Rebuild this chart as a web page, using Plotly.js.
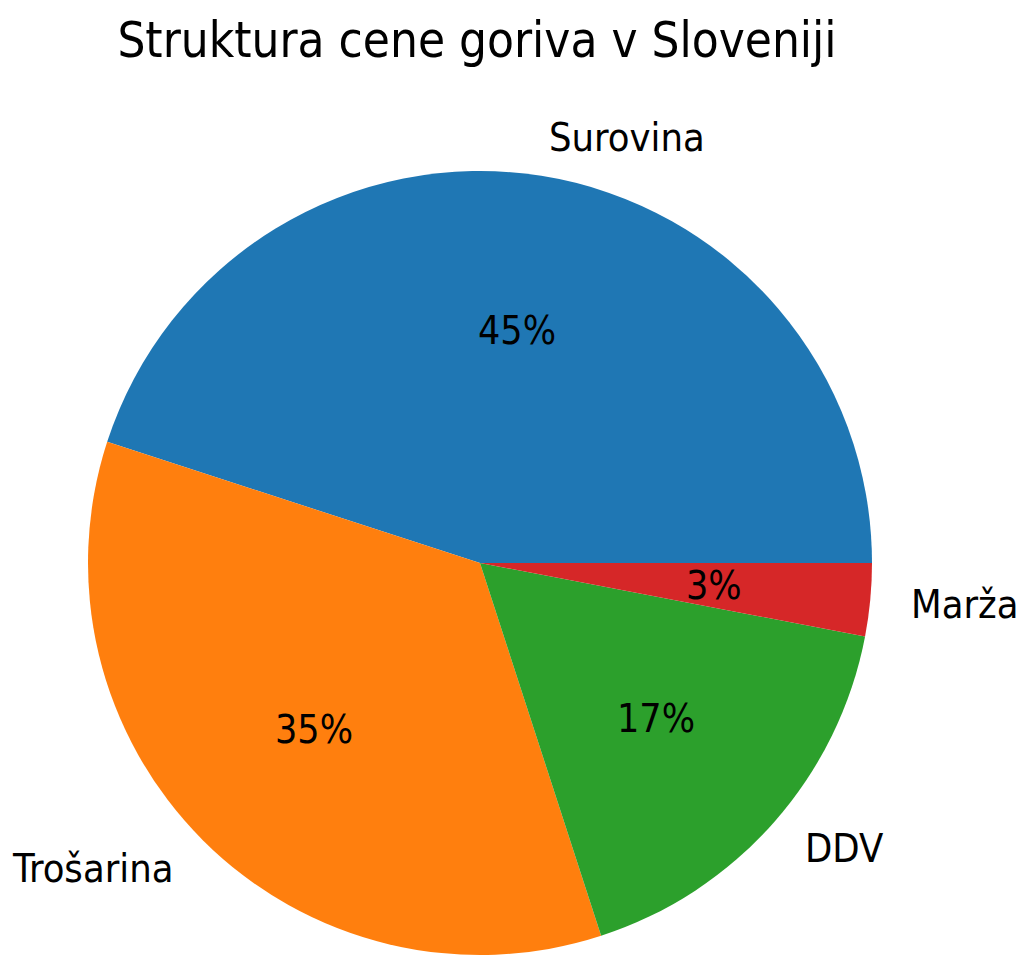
<!DOCTYPE html>
<html>
<head>
<meta charset="utf-8">
<script src="https://cdn.plot.ly/plotly-3.0.1.min.js"></script>
<style>html,body{margin:0;padding:0;background:#fff;}#chart{width:1024px;height:966px;}</style>
</head>
<body>
<div id="chart"></div>
<script>
const labels = ["Surovina", "Trošarina", "DDV", "Marža"];
const values = [45, 35, 17, 3];
const colors = ["#1f77b4", "#ff7f0e", "#2ca02c", "#d62728"];
const titleText = "Struktura cene goriva v Sloveniji";

const W = 1024, H = 966;
const cx = 480, cy = 563, r = 392;
const fontFam = "'DejaVu Sans Condensed', 'DejaVu Sans', sans-serif";

const total = values.reduce((a, b) => a + b, 0);
// Plotly (counterclockwise) puts the first slice clockwise-adjacent to `rotation`;
// matplotlib startangle=0 means first slice begins at 3 o'clock going CCW.
const firstSpan = values[0] / total * 360;
const rotation = 90 - firstSpan;

const annotations = [];
let start = 0;
values.forEach((v, i) => {
  const span = v / total * 360;
  const mid = (start + span / 2) * Math.PI / 180;
  start += span;
  const c = Math.cos(mid), s = Math.sin(mid);
  annotations.push({
    xref: 'paper', yref: 'paper',
    x: (cx + 0.6 * r * c) / W, y: 1 - (cy - 0.6 * r * s) / H,
    text: Math.round(v / total * 100) + '%',
    showarrow: false, xanchor: 'center', yanchor: 'middle',
    font: {family: fontFam, size: 39, color: '#000'}
  });
  annotations.push({
    xref: 'paper', yref: 'paper',
    x: (cx + 1.1 * r * c) / W, y: 1 - (cy - 1.1 * r * s) / H,
    text: labels[i],
    showarrow: false, xanchor: c >= 0 ? 'left' : 'right', yanchor: 'middle',
    font: {family: fontFam, size: 39.5, color: '#000'}
  });
});

const data = [{
  type: 'pie',
  labels: labels,
  values: values,
  sort: false,
  direction: 'counterclockwise',
  rotation: rotation,
  textinfo: 'none',
  hoverinfo: 'label+percent',
  marker: {colors: colors, line: {width: 0}},
  domain: {x: [(cx - r) / W, (cx + r) / W], y: [1 - (cy + r) / H, 1 - (cy - r) / H]},
  showlegend: false
}];

const layout = {
  width: W, height: H,
  margin: {l: 0, r: 0, t: 0, b: 0},
  paper_bgcolor: '#fff',
  showlegend: false,
  title: {text: titleText, x: 477 / W, xanchor: 'center', y: 1 - 40 / H, yanchor: 'middle',
          font: {family: fontFam, size: 49, color: '#000'}},
  annotations: annotations
};

Plotly.newPlot('chart', data, layout, {displayModeBar: false});
</script>
</body>
</html>
